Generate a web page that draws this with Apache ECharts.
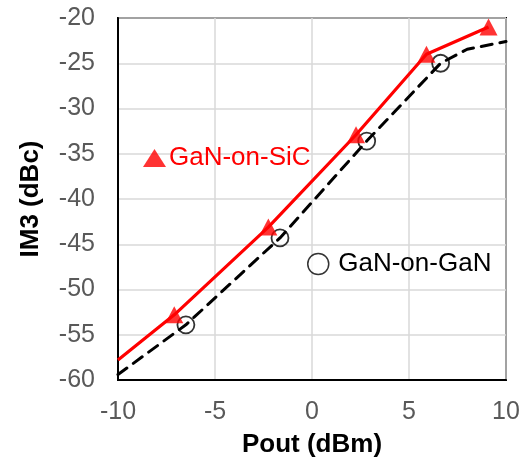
<!DOCTYPE html>
<html>
<head>
<meta charset="utf-8">
<script src="https://cdn.jsdelivr.net/npm/echarts@6/dist/echarts.min.js"></script>
<style>
  html, body { margin: 0; padding: 0; background: #fff; }
  #chart { width: 523px; height: 463px; }
</style>
</head>
<body>
<div id="chart"></div>
<script>
// GaN-on-SiC: measured points (triangles) and the drawn trend line
var sicX = [-7.1, -2.25, 2.27, 5.9, 9.1];
var sicY = [-52.8, -43.1, -32.9, -24.0, -21.0];
var sicLineX = [-10, -7.1, -2.25, 2.27, 5.9, 9.1];
var sicLineY = [-57.8, -52.8, -43.1, -32.9, -24.0, -21.0];

// GaN-on-GaN: measured points (circles) and the dashed trend line
var ganX = [-6.5, -1.65, 2.82, 6.63];
var ganY = [-53.9, -44.3, -33.6, -25.0];
var ganLineX = [-10, -6.5, -1.65, 2.82, 6.63, 8.0, 10];
var ganLineY = [-59.4, -53.9, -44.3, -33.6, -25.0, -23.45, -22.6];

var xTicks = [-10, -5, 0, 5, 10];
var yTicks = [-60, -55, -50, -45, -40, -35, -30, -25, -20];

function pairs(xs, ys) {
    return xs.map(function (x, i) { return [x, ys[i]]; });
}

var myChart = echarts.init(document.getElementById('chart'));

var labelFont = 'Arial, "Liberation Sans", sans-serif';

var option = {
    animation: false,
    grid: {
        left: 118,
        top: 18,
        right: 17,
        bottom: 81,
        show: true,
        borderColor: '#000',
        borderWidth: 2,
        containLabel: false
    },
    legend: [
        {
            data: [{ name: 'GaN-on-SiC', icon: 'triangle' }],
            left: 138,
            top: 140,
            itemWidth: 23,
            itemHeight: 18,
            selectedMode: false,
            textStyle: { color: '#ff0000', fontSize: 26, fontFamily: labelFont, padding: [0, 0, 0, -2] }
        },
        {
            data: [{
                name: 'GaN-on-GaN',
                icon: 'circle',
                itemStyle: { color: '#fff', borderColor: '#000', borderWidth: 1.5 }
            }],
            left: 302,
            top: 246,
            itemWidth: 22,
            itemHeight: 21,
            selectedMode: false,
            textStyle: { color: '#000', fontSize: 26, fontFamily: labelFont, padding: [0, 0, 0, 4] }
        }
    ],
    xAxis: {
        type: 'value',
        min: -10,
        max: 10,
        interval: 5,
        name: 'Pout (dBm)',
        nameLocation: 'middle',
        nameGap: 52,
        nameTextStyle: { color: '#000', fontSize: 26, fontWeight: 'bold', fontFamily: labelFont },
        axisLine: { show: true, onZero: false, lineStyle: { color: '#000', width: 2 } },
        axisTick: { show: false },
        axisLabel: {
            margin: 20,
            color: '#595959',
            fontSize: 25,
            fontFamily: labelFont,
            formatter: function (v) { return xTicks.indexOf(v) >= 0 ? String(v) : ''; }
        },
        splitLine: { show: true, lineStyle: { color: '#d9d9d9', width: 1.5 } }
    },
    yAxis: {
        type: 'value',
        min: -60,
        max: -20,
        interval: 5,
        name: 'IM3 (dBc)',
        nameLocation: 'middle',
        nameGap: 74,
        nameTextStyle: { color: '#000', fontSize: 26, fontWeight: 'bold', fontFamily: labelFont },
        axisLine: { show: true, onZero: false, lineStyle: { color: '#000', width: 2 } },
        axisTick: { show: false },
        axisLabel: {
            margin: 23,
            color: '#595959',
            fontSize: 25,
            fontFamily: labelFont,
            formatter: function (v) { return yTicks.indexOf(v) >= 0 ? String(v) : ''; }
        },
        splitLine: { show: true, lineStyle: { color: '#d9d9d9', width: 1.5 } }
    },
    series: [
        {
            name: 'GaN-on-GaN line',
            type: 'line',
            data: pairs(ganLineX, ganLineY),
            showSymbol: false,
            lineStyle: { color: '#000', width: 3, type: [11, 8], cap: 'round' },
            z: 2
        },
        {
            name: 'GaN-on-GaN',
            type: 'scatter',
            data: pairs(ganX, ganY),
            symbol: 'circle',
            symbolSize: 17,
            itemStyle: { color: 'rgba(255,255,255,0)', borderColor: '#000', borderWidth: 1.8 },
            z: 3
        },
        {
            name: 'GaN-on-SiC line',
            type: 'line',
            data: pairs(sicLineX, sicLineY),
            showSymbol: false,
            lineStyle: { color: '#ff0000', width: 3.2 },
            z: 4
        },
        {
            name: 'GaN-on-SiC',
            type: 'scatter',
            data: pairs(sicX, sicY),
            symbol: 'triangle',
            symbolSize: [18, 17],
            itemStyle: { color: '#ff0000' },
            z: 5
        }
    ]
};

myChart.setOption(option);
</script>
</body>
</html>
